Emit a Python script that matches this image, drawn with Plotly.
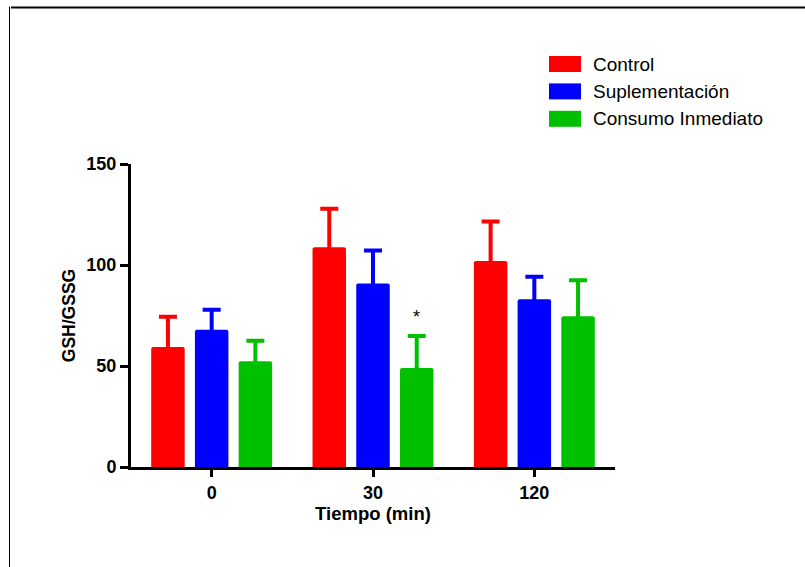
import plotly.graph_objects as go

# Data: GSH/GSSG ratio by time point and group (mean and upper SD)
tiempos = ["0", "30", "120"]
grupos = ["Control", "Suplementación", "Consumo Inmediato"]
colores = ["#FF0000", "#0000FF", "#00C000"]

control_media = [59.4, 108.8, 102.0]
control_de = [15.0, 19.0, 19.5]
suplem_media = [68.0, 90.8, 83.0]
suplem_de = [9.8, 16.4, 11.2]
consumo_media = [52.3, 49.0, 74.6]
consumo_de = [10.2, 15.9, 17.8]

medias = [control_media, suplem_media, consumo_media]
desvios = [control_de, suplem_de, consumo_de]

W, H = 805, 567
L, R, T, B = 131, 190, 164, 100
BARGAP = 0.187
FONT = "Arial, Liberation Sans, sans-serif"
# the whisker starts a little inside the bar so its lower cap stays hidden
HIDE = 2.0


def px_x(px):
    return (px - L) / (W - L - R)


def px_y(py):
    return (H - B - py) / (H - T - B)


fig = go.Figure()
# upper error whiskers first, so the bars drawn afterwards cover their base
for i, (color, m, d) in enumerate(zip(colores, medias, desvios)):
    fig.add_trace(go.Bar(
        x=tiempos, y=[v - HIDE for v in m], offsetgroup=str(i),
        marker=dict(color="rgba(0,0,0,0)", line=dict(width=0)),
        error_y=dict(type="data", array=[e + HIDE for e in d],
                     arrayminus=[0] * len(d), symmetric=False,
                     color=color, thickness=4, width=9),
        showlegend=False, hoverinfo="skip",
    ))
for i, (nombre, color, m) in enumerate(zip(grupos, colores, medias)):
    fig.add_trace(go.Bar(
        x=tiempos, y=m, name=nombre, offsetgroup=str(i),
        marker=dict(color=color, line=dict(width=0)),
        showlegend=False,
    ))

# significance mark above the "Consumo Inmediato" bar at 30 min
idx = tiempos.index("30")
fig.add_annotation(
    x=idx + (1 - BARGAP) / 3, y=consumo_media[idx] + consumo_de[idx],
    xref="x", yref="y", text="*", showarrow=False, yanchor="bottom",
    yshift=7, font=dict(family=FONT, size=18, color="black"),
)

# legend drawn as colored boxes + labels
for i, (nombre, color) in enumerate(zip(grupos, colores)):
    cy = 64 + i * 27.4
    fig.add_shape(type="rect", xref="paper", yref="paper",
                  x0=px_x(549), x1=px_x(581), y0=px_y(cy + 8), y1=px_y(cy - 8),
                  fillcolor=color, line=dict(width=0), layer="above")
    fig.add_annotation(x=px_x(591), y=px_y(cy), xref="paper", yref="paper",
                       text=nombre, showarrow=False, xanchor="left",
                       yanchor="middle",
                       font=dict(family=FONT, size=19, color="black"))

# frame lines at the top and left of the page
fig.add_shape(type="line", xref="paper", yref="paper",
              x0=px_x(11), x1=px_x(806), y0=px_y(7.5), y1=px_y(7.5),
              line=dict(color="black", width=2))
fig.add_shape(type="line", xref="paper", yref="paper",
              x0=px_x(9.5), x1=px_x(9.5), y0=px_y(6.5), y1=px_y(568),
              line=dict(color="black", width=1))

fig.update_layout(
    width=W, height=H,
    margin=dict(l=L, r=R, t=T, b=B, pad=0),
    paper_bgcolor="white", plot_bgcolor="white",
    barmode="group", bargap=BARGAP, bargroupgap=0.234,
    barcornerradius=2,
    font=dict(family=FONT, color="black"),
    showlegend=False,
)
fig.update_xaxes(
    type="category", range=[-0.5, 2.5],
    showline=True, linecolor="black", linewidth=3,
    ticks="outside", ticklen=7, tickwidth=3, tickcolor="black",
    tickfont=dict(family=FONT, size=18, color="black", weight="bold"),
    title=dict(text="Tiempo (min)", standoff=5,
               font=dict(family=FONT, size=18.5, color="black", weight="bold")),
    showgrid=False, zeroline=False,
)
fig.update_yaxes(
    range=[0, 150], tickvals=[0, 50, 100, 150],
    showline=True, linecolor="black", linewidth=3,
    ticks="outside", ticklen=8, tickwidth=3, tickcolor="black",
    tickfont=dict(family=FONT, size=18, color="black", weight="bold"),
    title=dict(text="GSH/GSSG", standoff=7,
               font=dict(family=FONT, size=17.5, color="black", weight="bold")),
    showgrid=False, zeroline=False,
)

fig.write_html("out.html")
